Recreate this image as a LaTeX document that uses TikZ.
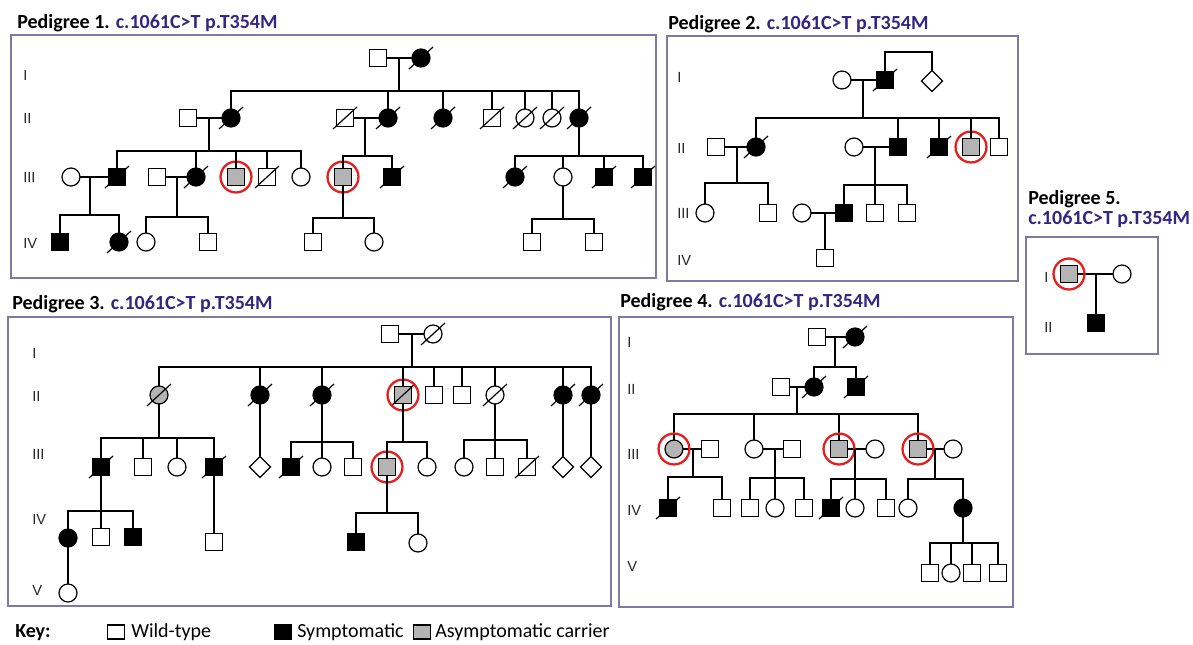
\documentclass[tikz,border=0pt]{standalone}
\usepackage{fontspec}
\setmainfont{Carlito}
\newfontfamily\numfont{Liberation Sans}
\usetikzlibrary{shapes.geometric,calc}

\definecolor{carrier}{RGB}{180,180,180}
\definecolor{ttlblue}{RGB}{50,38,130}
\definecolor{ringred}{RGB}{232,28,28}
\definecolor{frame}{RGB}{125,122,160}

\tikzset{
  ind/.style={draw=black, line width=0.9pt, inner sep=0pt, outer sep=0pt},
  male/.style={ind, rectangle, minimum size=13.1pt},
  female/.style={ind, circle, minimum size=13.5pt},
  unknown/.style={ind, diamond, minimum size=15.8pt},
  aff/.style={fill=black},
  car/.style={fill=carrier},
  link/.style={draw=black, line width=0.9pt},
  slash/.style={draw=black, line width=0.9pt},
  ring/.style={draw=ringred, line width=1.7pt},
  panel/.style={draw=frame, line width=0.8pt},
  gen/.style={anchor=west, inner sep=0pt, font=\numfont\fontsize{11}{13}\selectfont, text=black!85},
  title/.style={anchor=base west, inner sep=0pt, font=\bfseries\fontsize{15}{18}\selectfont},
  keytext/.style={anchor=base west, inner sep=0pt, font=\fontsize{15}{18}\selectfont},
  keybox/.style={ind, rectangle, minimum width=13.1pt, minimum height=10.5pt},
}
\newcommand\dead[1]{\draw[slash] ($(#1.center)+(-12,11)$) -- ($(#1.center)+(12,-11)$);}
\newcommand\prob[1]{\draw[ring] (#1.center) circle (11.6pt);}

\begin{document}
\begin{tikzpicture}[x=0.75pt,y=-0.75pt]
\useasboundingbox (0,0) rectangle (1193,644);
\fill[white] (0,0) rectangle (1193,644);

% ---------------- Pedigree 1 ----------------
\draw[panel] (11,35) rectangle (656,278);
\node[title] (t1) at (17,28) {Pedigree 1. \textcolor{ttlblue}{c.1061C>T p.T354M}};
\node[gen] (g1a) at (23,75) {I};
\node[gen] (g1b) at (23,118) {II};
\node[gen] (g1c) at (23,177) {III};
\node[gen] (g1d) at (23,243) {IV};

\node[male] (a1) at (378,58) {};
\node[female,aff] (a2) at (421,58) {}; \dead{a2}
\draw[link] (a1) -- (a2);
\coordinate (a12) at (399,58); \coordinate (sa) at (399,91);
\draw[link] (a12) -- (sa);

\node[male] (b1) at (188,118) {};
\node[female,aff] (b2) at (231,118) {}; \dead{b2}
\node[male] (b3) at (345,118) {}; \dead{b3}
\node[female,aff] (b4) at (388,118) {}; \dead{b4}
\node[female,aff] (b5) at (443,118) {}; \dead{b5}
\node[male] (b6) at (492,118) {}; \dead{b6}
\node[female] (b7) at (525,118) {}; \dead{b7}
\node[female] (b8) at (552,118) {}; \dead{b8}
\node[female,aff] (b9) at (579,118) {}; \dead{b9}
\draw[link] (b2.north) |- (sa) -| (b9.north);
\foreach \n in {b4,b5,b6,b7,b8} \draw[link] (\n.north) -- (\n.north |- sa);
\draw[link] (b1) -- (b2);
\draw[link] (b3) -- (b4);
\coordinate (b12) at (209,118); \coordinate (sb1) at (209,151);
\coordinate (b34) at (365,118); \coordinate (sb2) at (365,156);
\coordinate (sb3) at (579,156);
\draw[link] (b12) -- (sb1);
\draw[link] (b34) -- (sb2);
\draw[link] (b9) -- (sb3);

\node[female] (c1) at (71,177) {};
\node[male,aff] (c2) at (117,177) {}; \dead{c2}
\node[male] (c3) at (157,177) {};
\node[female,aff] (c4) at (196,177) {}; \dead{c4}
\node[male,car] (c5) at (236,177) {}; \prob{c5}
\node[male] (c6) at (267,177) {}; \dead{c6}
\node[female] (c7) at (301,177) {};
\node[male,car] (c8) at (343,177) {}; \prob{c8}
\node[male,aff] (c9) at (392,177) {}; \dead{c9}
\node[female,aff] (c10) at (515,177) {}; \dead{c10}
\node[female] (c11) at (563,177) {};
\node[male,aff] (c12) at (604,177) {}; \dead{c12}
\node[male,aff] (c13) at (643,177) {}; \dead{c13}
\draw[link] (c2.north) |- (sb1) -| (c7.north);
\foreach \n in {c4,c5,c6} \draw[link] (\n.north) -- (\n.north |- sb1);
\draw[link] (c8.north) |- (sb2) -| (c9.north);
\draw[link] (c10.north) |- (sb3) -| (c13.north);
\foreach \n in {c11,c12} \draw[link] (\n.north) -- (\n.north |- sb3);
\draw[link] (c1) -- (c2);
\draw[link] (c3) -- (c4);
\coordinate (c12m) at (90,177); \coordinate (sc1) at (90,215);
\coordinate (c34m) at (177,177); \coordinate (sc2) at (177,217);
\coordinate (sc3) at (343,218);
\coordinate (sc4) at (563,219);
\draw[link] (c12m) -- (sc1);
\draw[link] (c34m) -- (sc2);
\draw[link] (c8) -- (sc3);
\draw[link] (c11) -- (sc4);

\node[male,aff] (d1) at (60,242) {};
\node[female,aff] (d2) at (119,242) {}; \dead{d2}
\node[female] (d3) at (146,242) {};
\node[male] (d4) at (208,242) {};
\node[male] (d5) at (313,242) {};
\node[female] (d6) at (374,242) {};
\node[male] (d7) at (532,242) {};
\node[male] (d8) at (594,242) {};
\draw[link] (d1.north) |- (sc1) -| (d2.north);
\draw[link] (d3.north) |- (sc2) -| (d4.north);
\draw[link] (d5.north) |- (sc3) -| (d6.north);
\draw[link] (d7.north) |- (sc4) -| (d8.north);

% ---------------- Pedigree 2 ----------------
\draw[panel] (667,36) rectangle (1018,281);
\node[title] (t2) at (668,29) {Pedigree 2. \textcolor{ttlblue}{c.1061C>T p.T354M}};
\node[gen] (g2a) at (677,77) {I};
\node[gen] (g2b) at (677,148) {II};
\node[gen] (g2c) at (677,213) {III};
\node[gen] (g2d) at (677,260) {IV};

\node[female] (e1) at (842,80) {};
\node[male,aff] (e2) at (885,80) {}; \dead{e2}
\node[unknown] (e3) at (932,81) {};
\coordinate (te) at (908,52);
\draw[link] (e2.north) |- (te) -| (e3.north);
\draw[link] (e1) -- (e2);
\coordinate (e12) at (863,80); \coordinate (se) at (863,118);
\draw[link] (e12) -- (se);

\node[male] (f1) at (716,147) {};
\node[female,aff] (f2) at (756,147) {}; \dead{f2}
\node[female] (f3) at (854,147) {};
\node[male,aff] (f4) at (898,147) {};
\node[male,aff] (f5) at (939,147) {}; \dead{f5}
\node[male,car] (f6) at (971,147) {}; \prob{f6}
\node[male] (f7) at (999,147) {};
\draw[link] (f2.north) |- (se) -| (f7.north);
\foreach \n in {f4,f5,f6} \draw[link] (\n.north) -- (\n.north |- se);
\draw[link] (f1) -- (f2);
\draw[link] (f3) -- (f4);
\coordinate (f12) at (737,147); \coordinate (sf1) at (737,183);
\coordinate (f34) at (875,147); \coordinate (sf2) at (875,185);
\draw[link] (f12) -- (sf1);
\draw[link] (f34) -- (sf2);

\node[female] (h1) at (705,213) {};
\node[male] (h2) at (768,213) {};
\node[female] (h3) at (802,213) {};
\node[male,aff] (h4) at (844,213) {};
\node[male] (h5) at (875,213) {};
\node[male] (h6) at (907,213) {};
\draw[link] (h1.north) |- (sf1) -| (h2.north);
\draw[link] (h4.north) |- (sf2) -| (h6.north);
\draw[link] (h5.north) -- (h5.north |- sf2);
\draw[link] (h3) -- (h4);
\coordinate (h34) at (825,213);
\node[male] (k1) at (825,258) {};
\draw[link] (h34) -- (k1);

% ---------------- Pedigree 3 ----------------
\draw[panel] (8,317) rectangle (611,606);
\node[title] (t3) at (12,309) {Pedigree 3. \textcolor{ttlblue}{c.1061C>T p.T354M}};
\node[gen] (g3a) at (32,353) {I};
\node[gen] (g3b) at (32,396) {II};
\node[gen] (g3c) at (32,454) {III};
\node[gen] (g3d) at (32,519) {IV};
\node[gen] (g3e) at (32,590) {V};

\node[male] (p1) at (390,334) {};
\node[female] (p2) at (433,334) {}; \dead{p2}
\draw[link] (p1) -- (p2);
\coordinate (p12) at (412,334); \coordinate (sp) at (412,367);
\draw[link] (p12) -- (sp);

\node[female,car] (q1) at (159,395) {}; \dead{q1}
\node[female,aff] (q2) at (260,395) {}; \dead{q2}
\node[female,aff] (q3) at (322,395) {}; \dead{q3}
\node[male,car] (q4) at (403,395) {}; \dead{q4} \prob{q4}
\node[male] (q5) at (434,395) {};
\node[male] (q6) at (462,395) {};
\node[female] (q7) at (495,395) {}; \dead{q7}
\node[female,aff] (q8) at (563,395) {}; \dead{q8}
\node[female,aff] (q9) at (591,395) {}; \dead{q9}
\draw[link] (q1.north) |- (sp) -| (q9.north);
\foreach \n in {q2,q3,q4,q5,q6,q7,q8} \draw[link] (\n.north) -- (\n.north |- sp);

\coordinate (sq1) at (159,438);
\coordinate (sq3) at (322,442);
\coordinate (sq4) at (403,442);
\coordinate (sq7) at (495,440);
\draw[link] (q1) -- (sq1);
\draw[link] (q3) -- (sq3);
\draw[link] (q4) -- (sq4);
\draw[link] (q7) -- (sq7);

\node[male,aff] (r1) at (101,467) {}; \dead{r1}
\node[male] (r2) at (143,467) {};
\node[female] (r3) at (177,467) {};
\node[male,aff] (r4) at (214,467) {}; \dead{r4}
\node[unknown] (r5) at (260,467) {};
\node[male,aff] (r6) at (291,467) {}; \dead{r6}
\node[female] (r7) at (322,467) {};
\node[male] (r8) at (353,467) {};
\node[male,car] (r9) at (387,467) {}; \prob{r9}
\node[female] (r10) at (427,467) {};
\node[female] (r11) at (464,467) {};
\node[male] (r12) at (495,467) {};
\node[male] (r13) at (527,467) {}; \dead{r13}
\node[unknown] (r14) at (563,467) {};
\node[unknown] (r15) at (591,467) {};
\draw[link] (r1.north) |- (sq1) -| (r4.north);
\foreach \n in {r2,r3} \draw[link] (\n.north) -- (\n.north |- sq1);
\draw[link] (q2) -- (r5);
\draw[link] (r6.north) |- (sq3) -| (r8.north);
\draw[link] (r7.north) -- (r7.north |- sq3);
\draw[link] (r9.north) |- (sq4) -| (r10.north);
\draw[link] (r11.north) |- (sq7) -| (r13.north);
\draw[link] (r12.north) -- (r12.north |- sq7);
\draw[link] (q8) -- (r14);
\draw[link] (q9) -- (r15);

\coordinate (sr1) at (101,511);
\coordinate (sr9) at (387,513);
\draw[link] (r1) -- (sr1);
\draw[link] (r9) -- (sr9);
\node[female,aff] (s1) at (68,538) {};
\node[male] (s2) at (101,537) {};
\node[male,aff] (s3) at (133,537) {};
\node[male] (s4) at (214,542) {};
\node[male,aff] (s5) at (356,542) {};
\node[female] (s6) at (418,543) {};
\draw[link] (s1.north) |- (sr1) -| (s3.north);
\draw[link] (s2.north) -- (s2.north |- sr1);
\draw[link] (r4) -- (s4);
\draw[link] (s5.north) |- (sr9) -| (s6.north);
\node[female] (v5a) at (68,593) {};
\draw[link] (s1) -- (v5a);

% ---------------- Pedigree 4 ----------------
\draw[panel] (619,317) rectangle (1013,607);
\node[title] (t4) at (620,307) {Pedigree 4. \textcolor{ttlblue}{c.1061C>T p.T354M}};
\node[gen] (g4a) at (627,342) {I};
\node[gen] (g4b) at (627,389) {II};
\node[gen] (g4c) at (627,454) {III};
\node[gen] (g4d) at (627,510) {IV};
\node[gen] (g4e) at (627,566) {V};

\node[male] (u1) at (817,337) {};
\node[female,aff] (u2) at (855,337) {}; \dead{u2}
\draw[link] (u1) -- (u2);
\coordinate (u12) at (835,337); \coordinate (su) at (835,367);
\draw[link] (u12) -- (su);

\node[male] (v1) at (781,387) {};
\node[female,aff] (v2) at (814,387) {}; \dead{v2}
\node[male,aff] (v3) at (856,387) {}; \dead{v3}
\draw[link] (v2.north) |- (su) -| (v3.north);
\draw[link] (v1) -- (v2);
\coordinate (v12) at (797,387); \coordinate (sv) at (797,414);
\draw[link] (v12) -- (sv);

\node[female,car] (w1) at (674,449) {};
\node[male] (w2) at (710,449) {};
\node[female] (w3) at (754,449) {};
\node[male] (w4) at (792,449) {};
\node[male,car] (w5) at (839,449) {};
\node[female] (w6) at (875,449) {};
\node[male,car] (w7) at (918,449) {};
\node[female] (w8) at (953,449) {};
\draw[link] (w1.north) |- (sv) -| (w7.north);
\foreach \n in {w3,w5} \draw[link] (\n.north) -- (\n.north |- sv);
\draw[link] (w1) -- (w2);
\draw[link] (w3) -- (w4);
\draw[link] (w5) -- (w6);
\draw[link] (w7) -- (w8);
\prob{w1} \prob{w5} \prob{w7}
\coordinate (w12) at (693,449); \coordinate (sw1) at (693,477);
\coordinate (w34) at (775,449); \coordinate (sw3) at (775,478);
\coordinate (w56) at (855,449); \coordinate (sw5) at (855,479);
\coordinate (w78) at (935,449); \coordinate (sw7) at (935,479);
\draw[link] (w12) -- (sw1);
\draw[link] (w34) -- (sw3);
\draw[link] (w56) -- (sw5);
\draw[link] (w78) -- (sw7);

\node[male,aff] (x1) at (668,508) {}; \dead{x1}
\node[male] (x2) at (722,508) {};
\node[male] (x3) at (750,508) {};
\node[female] (x4) at (775,508) {};
\node[male] (x5) at (804,508) {};
\node[male,aff] (x6) at (831,508) {}; \dead{x6}
\node[female] (x7) at (855,508) {};
\node[male] (x8) at (886,508) {};
\node[female] (x9) at (908,508) {};
\node[female,aff] (x10) at (963,508) {};
\draw[link] (x1.north) |- (sw1) -| (x2.north);
\draw[link] (x3.north) |- (sw3) -| (x5.north);
\draw[link] (x4.north) -- (x4.north |- sw3);
\draw[link] (x6.north) |- (sw5) -| (x8.north);
\draw[link] (x7.north) -- (x7.north |- sw5);
\draw[link] (x9.north) |- (sw7) -| (x10.north);

\coordinate (sx10) at (963,543);
\draw[link] (x10) -- (sx10);
\node[male] (y1) at (930,573) {};
\node[female] (y2) at (951,573) {};
\node[male] (y3) at (972,573) {};
\node[male] (y4) at (998,573) {};
\draw[link] (y1.north) |- (sx10) -| (y4.north);
\foreach \n in {y2,y3} \draw[link] (\n.north) -- (\n.north |- sx10);

% ---------------- Pedigree 5 ----------------
\draw[panel] (1026,237) rectangle (1158,354);
\node[title] (t5a) at (1028,204) {Pedigree 5.};
\node[title, text=ttlblue] (t5b) at (1028,224) {c.1061C>T p.T354M};
\node[gen] (g5a) at (1044,277) {I};
\node[gen] (g5b) at (1044,327) {II};
\node[male,car] (z1) at (1069,274) {};
\node[female] (z2) at (1122,274) {};
\draw[link] (z1) -- (z2);
\prob{z1}
\coordinate (z12) at (1096,274);
\node[male,aff] (z3) at (1096,323) {};
\draw[link] (z12) -- (z3);

% ---------------- Key ----------------
\node[title] (key) at (15,637) {Key:};
\node[keybox] (kw) at (116,632) {};
\node[keytext] (kwt) at (131,637) {Wild-type};
\node[keybox,aff] (ks) at (283,632) {};
\node[keytext] (kst) at (297,637) {Symptomatic};
\node[keybox,car] (kc) at (422,632) {};
\node[keytext] (kct) at (435,637) {Asymptomatic carrier};
\end{tikzpicture}
\end{document}
